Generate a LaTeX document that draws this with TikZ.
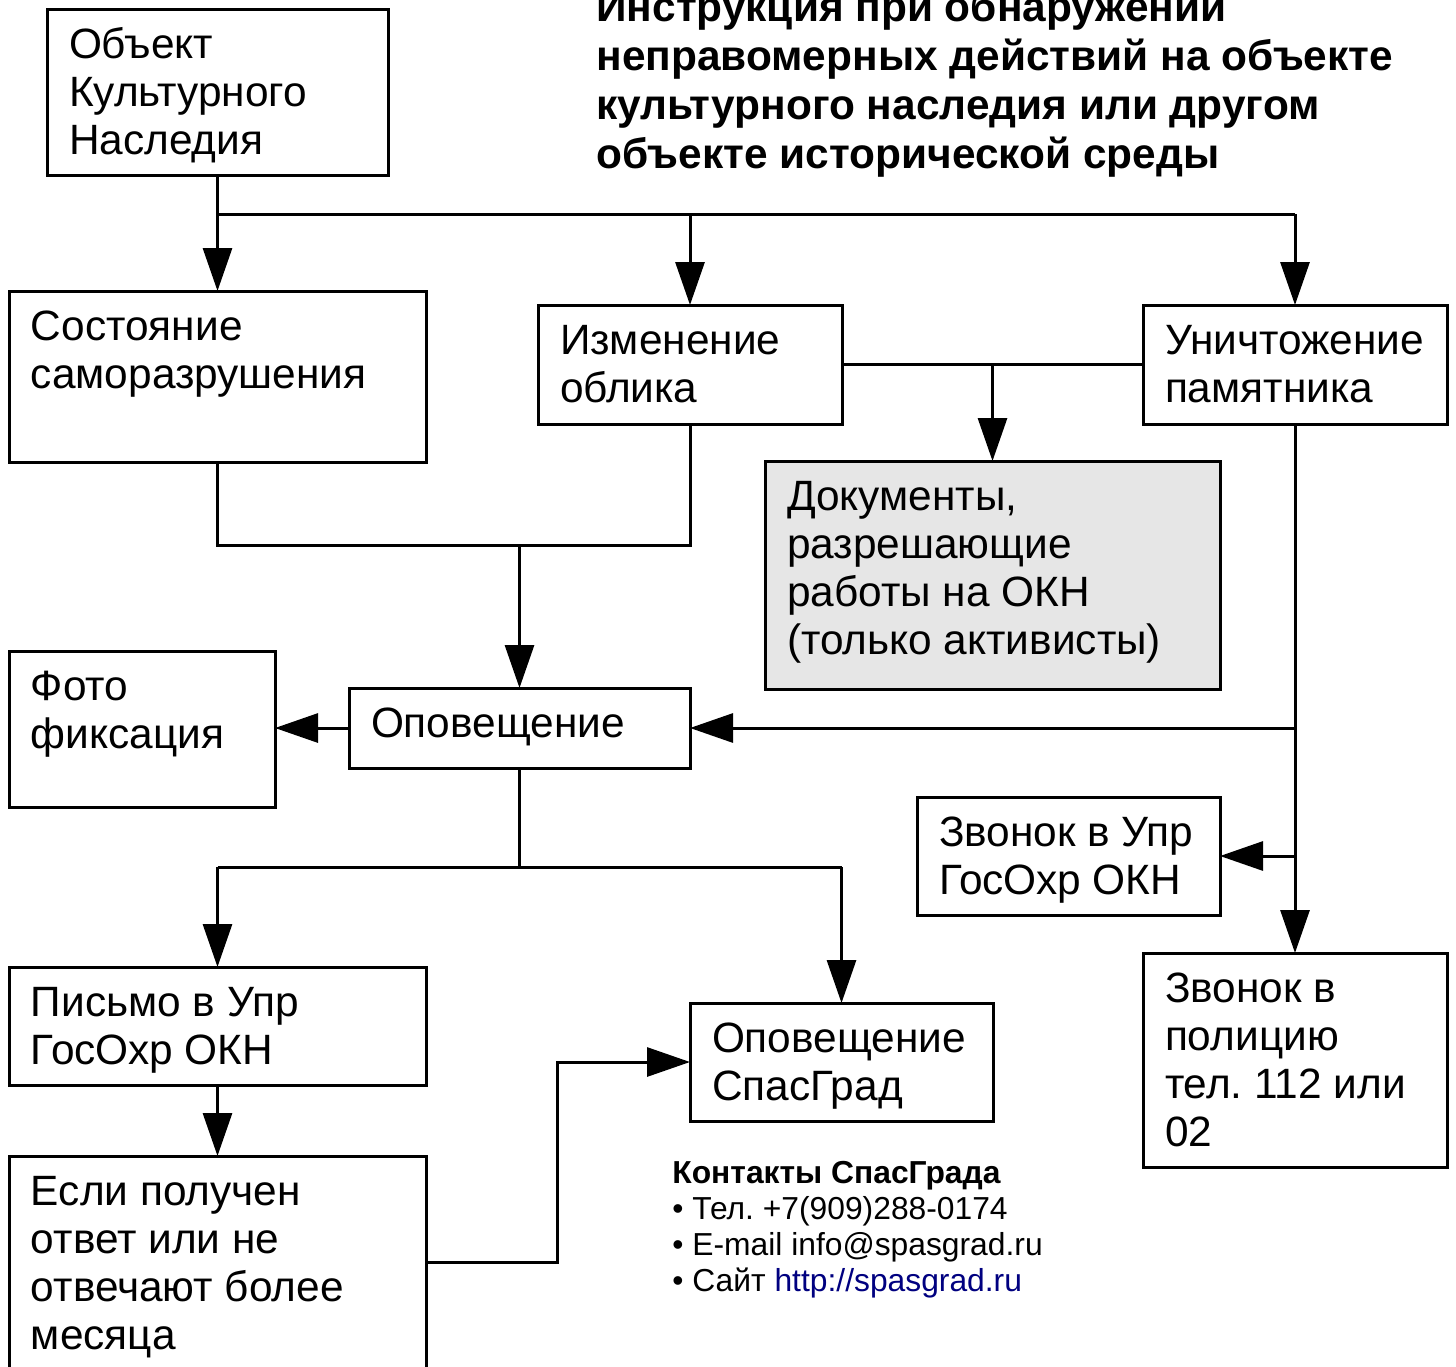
\documentclass[tikz,border=0pt]{standalone}
\usepackage{fontspec}
\setmainfont{Liberation Sans}
\usetikzlibrary{arrows.meta}
\definecolor{linkblue}{HTML}{000080}
\definecolor{docgray}{HTML}{E6E6E6}
\frenchspacing
\newcommand\cellbox[3]{\parbox[c][#2][t]{#1}{\fontsize{21.2pt}{24pt}\selectfont\raggedright\leftskip=11pt\relax\rule{0pt}{24.5pt}#3}}
\tikzset{
  boxnode/.style={draw, line width=1.5pt, inner sep=0pt, outer sep=0pt, anchor=north west},
  conn/.style={line width=1.5pt},
  arr/.style={line width=1.5pt, -{Triangle[length=21.5pt,width=14.5pt]}},
}
\begin{document}
\begin{tikzpicture}[x=0.5pt,y=-0.5pt]
\useasboundingbox (0,0) rectangle (1456,1366);
\clip (0,0) rectangle (1456,1366);
\fill[white] (0,0) rectangle (1456,1366);
% boxes
\node[boxnode] (b1) at (47,9) {\cellbox{170.5pt}{83pt}{Объект\\Культурного\\Наследия}};
\node[boxnode] (b2) at (9,291) {\cellbox{208.5pt}{85.5pt}{Состояние\\саморазрушения}};
\node[boxnode] (b3) at (538,305) {\cellbox{152pt}{59.5pt}{Изменение\\облика}};
\node[boxnode] (b4) at (1143,305) {\cellbox{152pt}{59.5pt}{Уничтожение\\памятника}};
\node[boxnode, fill=docgray] (b5) at (765,461) {\cellbox{227.5pt}{114pt}{Документы,\\разрешающие\\работы на ОКН\\(только активисты)}};
\node[boxnode] (b6) at (349,688) {\cellbox{170.5pt}{40pt}{Оповещение}};
\node[boxnode] (b7) at (9,651) {\cellbox{133pt}{78pt}{Фото\\фиксация}};
\node[boxnode] (b8) at (917,797) {\cellbox{151.5pt}{59pt}{Звонок в Упр\\ГосОхр ОКН}};
\node[boxnode] (b9) at (1143,953) {\cellbox{152pt}{107pt}{Звонок в\\полицию\\тел. 112 или\\02}};
\node[boxnode] (b10) at (9,967) {\cellbox{208.5pt}{59pt}{Письмо в Упр\\ГосОхр ОКН}};
\node[boxnode] (b11) at (690,1003) {\cellbox{151.5pt}{59pt}{Оповещение\\СпасГрад}};
\node[boxnode] (b12) at (9,1156) {\cellbox{208.5pt}{112pt}{Если получен\\ответ или не\\отвечают более\\месяца}};
% title
\node[anchor=base west, inner sep=0pt] (title) at (596,21) {\parbox[t]{440pt}{\fontsize{21.2pt}{24.5pt}\selectfont\bfseries\raggedright Инструкция при обнаружении\\неправомерных действий на объекте\\культурного наследия или другом\\объекте исторической среды}};
% contacts
\node[anchor=base west, inner sep=0pt] (contacts) at (672,1183) {\parbox[t]{220pt}{\fontsize{15.9pt}{18pt}\selectfont\raggedright\textbf{Контакты СпасГрада}\\• Тел. +7(909)288-0174\\• E-mail info@spasgrad.ru\\• Сайт \textcolor{linkblue}{http://spasgrad.ru}}};
% junctions
\coordinate (j1) at (217.5,214);
\coordinate (j2) at (519.5,545);
\coordinate (j3) at (519.5,867);
\coordinate (j4) at (557,1262);
% connectors
\draw[arr] (b1.south) -- (b2.north);
\draw[conn] (j1) -- (j1 -| b4.north);
\draw[arr] (j1 -| b3.north) -- (b3.north);
\draw[arr] (j1 -| b4.north) -- (b4.north);
\draw[conn] (b3.east) -- (b4.west);
\draw[arr] (b5.north |- b3.east) -- (b5.north);
\draw[conn] (b2.south) |- (b3.south |- j2) -- (b3.south);
\draw[arr] (j2) -- (b6.north);
\draw[arr] (b6.west) -- (b6.west -| b7.east);
\draw[arr] (b4.south) -- (b9.north);
\draw[arr] (b6.east -| b4.south) -- (b6.east);
\draw[arr] (b8.east -| b4.south) -- (b8.east);
\draw[conn] (b6.south) -- (j3);
\draw[conn] (b10.north |- j3) -- (b11.north |- j3);
\draw[arr] (b10.north |- j3) -- (b10.north);
\draw[arr] (b11.north |- j3) -- (b11.north);
\draw[arr] (b10.south) -- (b12.north);
\draw[arr] (b12.east |- j4) -- (j4) |- (b11.west);
\end{tikzpicture}
\end{document}
